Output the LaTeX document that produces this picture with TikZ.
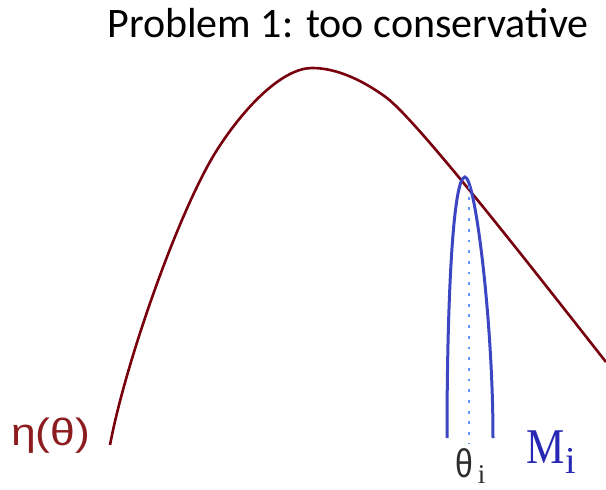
\documentclass[tikz,border=0pt]{standalone}
\usepackage{fontspec}
\setmainfont{Carlito}
\newfontfamily\arialf{Liberation Sans}
\newfontfamily\timesf{Liberation Serif}
\definecolor{etared}{RGB}{120,0,12}
\definecolor{etatext}{RGB}{140,28,30}
\definecolor{modelblue}{RGB}{60,70,195}
\definecolor{dotblue}{RGB}{95,150,255}
\definecolor{mtext}{RGB}{40,40,180}
\definecolor{thetatext}{RGB}{45,45,45}
\begin{document}
\begin{tikzpicture}[x=1pt,y=-1pt,
  etacurve/.style={draw=etared,line width=2.6pt},
  modelcurve/.style={draw=modelblue,line width=3pt},
  dotline/.style={draw=dotblue,line width=2.8pt,dash pattern=on 2.8pt off 7.9pt},
  lbl/.style={inner sep=0pt,anchor=base west}]
\useasboundingbox (0,0) rectangle (606,490);
\node[inner sep=0pt,anchor=base] (title) at (348,37) {\fontsize{42}{46}\selectfont Problem 1: too conservative};
\coordinate (e0) at (110,445);
\coordinate (e1) at (217,150);
\coordinate (e2) at (312,68);
\coordinate (e3) at (387,98);
\coordinate (e4) at (606,362);
\draw[etacurve] (e0) .. controls (126,360) and (180,208) .. (e1)
  .. controls (245,106) and (283,68) .. (e2)
  .. controls (332,68) and (357,76) .. (e3)
  .. controls (420,124) and (530,265.5) .. (e4);
\coordinate (m0) at (447,438);
\coordinate (mtop) at (465,177);
\coordinate (m1) at (493,438);
\draw[modelcurve] (m0) .. controls (447,300) and (453,177) .. (mtop)
  .. controls (475,177) and (493,320) .. (m1);
\coordinate (d0) at (469,186);
\coordinate (d1) at (469,444);
\draw[dotline] (d0) -- (d1);
\node[lbl] (eta) at (11,445) {\arialf\fontsize{38}{40}\selectfont\color{etatext}\scalebox{1.17}[1]{η(θ)}};
\node[lbl] (thetai) at (455,477) {\arialf\fontsize{40}{42}\selectfont\color{thetatext}\scalebox{0.8}[1]{θ}\hspace{5pt}\raisebox{-6pt}{\timesf\fontsize{27}{29}\selectfont i}};
\node[lbl] (Mi) at (526,463) {\timesf\fontsize{50}{52}\selectfont\color{mtext}\scalebox{0.86}[1]{M}\hspace{1pt}\raisebox{-10pt}{\fontsize{38}{40}\selectfont i}};
\end{tikzpicture}
\end{document}
